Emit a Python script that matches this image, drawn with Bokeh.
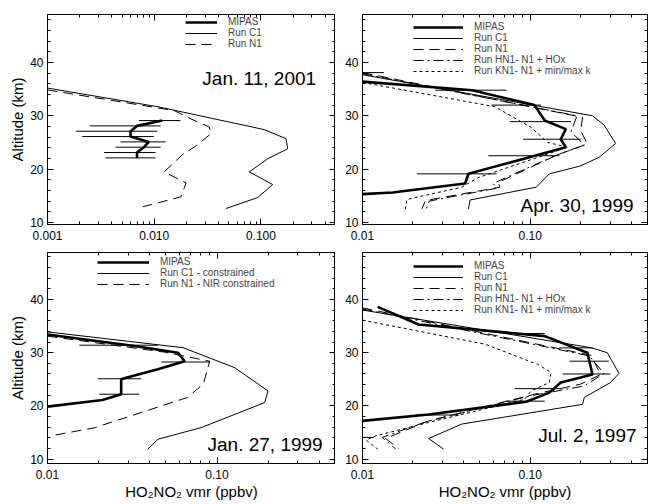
from bokeh.plotting import figure
from bokeh.layouts import column, row
from bokeh.models import (Range1d, FixedTicker, PrintfTickFormatter, LogAxis, LinearAxis,
                          Legend, LegendItem, Label)
from bokeh.embed import file_html
from bokeh.resources import INLINE

FONT = "Liberation Sans"

# ---------------- Panel A: Jan. 11, 2001 ----------------
a_mipas_alt = [29.1, 28.1, 27.1, 26.1, 25.1, 24.1, 23.1, 22.1]
a_mipas_vmr = [0.0119, 0.0069, 0.0060, 0.0060, 0.0089, 0.0080, 0.0069, 0.0069]
a_bar_alt = [29.1, 28.1, 27.1, 26.1, 25.1, 24.1, 23.1, 22.1]
a_bar_lo = [0.0072, 0.0025, 0.00184, 0.00212, 0.00484, 0.00435, 0.00338, 0.0035]
a_bar_hi = [0.0176, 0.0115, 0.0107, 0.0099, 0.0128, 0.0115, 0.0103, 0.0103]
a_c1_alt = [35.2, 31.7, 27.4, 25.7, 23.8, 21.95, 19.46, 17.1, 14.66, 12.6]
a_c1_vmr = [0.001, 0.0108, 0.1077, 0.172, 0.178, 0.116, 0.078, 0.129, 0.0933, 0.0471]
a_n1_alt = [34.84, 30.98, 29.42, 27.87, 26.62, 24.13, 22.76, 19.46, 17.4, 14.79, 12.92]
a_n1_vmr = [0.001, 0.0154, 0.0221, 0.0329, 0.034, 0.0238, 0.0185, 0.0124, 0.0199, 0.0178, 0.0078]

# ---------------- Panel B: Apr. 30, 1999 ----------------
b_mipas_alt = [36.4, 34.8, 32.0, 29.1, 27.5, 25.6, 24.1, 19.1, 17.3, 15.6, 15.3]
b_mipas_vmr = [0.010, 0.045, 0.106, 0.122, 0.163, 0.152, 0.163, 0.0428, 0.0409, 0.0151, 0.010]
b_bar_alt = [38.1, 34.8, 32.0, 28.9, 25.6, 22.5, 19.1]
b_bar_lo = [0.0100, 0.0272, 0.0587, 0.0755, 0.0906, 0.0562, 0.0211]
b_bar_hi = [0.0134, 0.0721, 0.116, 0.175, 0.200, 0.149, 0.063]
b_c1_alt = [37.7, 30.0, 28.3, 24.8, 22.2, 20.6, 19.1, 16.6, 14.2, 12.5]
b_c1_vmr = [0.01, 0.235, 0.275, 0.323, 0.257, 0.2, 0.13, 0.1085, 0.0438, 0.0428]
b_n1_alt = [38.1, 29.7, 27.2, 24.7, 22.7, 17.5, 16.6, 14.1, 12.5]
b_n1_vmr = [0.01, 0.205, 0.2, 0.219, 0.146, 0.0644, 0.066, 0.0237, 0.0226]
b_hn1_alt = [37.9, 30.0, 27.0, 24.5, 22.5, 17.3, 16.4, 14.0, 12.5]
b_hn1_vmr = [0.01, 0.19, 0.175, 0.21, 0.14, 0.06, 0.063, 0.025, 0.024]
b_kn1_alt = [36.25, 31.7, 27.8, 25.0, 24.1, 18.4, 16.6, 14.3, 12.5]
b_kn1_vmr = [0.01, 0.0615, 0.1014, 0.127, 0.167, 0.049, 0.039, 0.0184, 0.018]

# ---------------- Panel C: Jan. 27, 1999 ----------------
c_mipas_alt = [19.88, 21.13, 22.19, 25.0, 25.3, 26.9, 28.4, 30.0, 31.25, 33.4]
c_mipas_vmr = [0.01, 0.0211, 0.0272, 0.0272, 0.0291, 0.0448, 0.0644, 0.0587, 0.0326, 0.01]
c_bar_alt = [31.4, 28.25, 25.1, 22.2]
c_bar_lo = [0.0154, 0.0469, 0.0198, 0.0202]
c_bar_hi = [0.0448, 0.0906, 0.0357, 0.0348]
c_c1_alt = [33.9, 30.94, 27.19, 22.81, 20.63, 15.94, 13.75, 11.88]
c_c1_vmr = [0.01, 0.063, 0.127, 0.2, 0.191, 0.0807, 0.0448, 0.039]
c_n1_alt = [33.1, 30.1, 28.4, 24.1, 21.6, 15.9, 14.4]
c_n1_vmr = [0.01, 0.049, 0.0906, 0.083, 0.067, 0.0189, 0.0105]

# ---------------- Panel D: Jul. 2, 1997 ----------------
d_mipas_alt = [38.6, 35.3, 33.1, 30.0, 25.9, 24.4, 22.5, 20.8, 18.4, 17.2]
d_mipas_vmr = [0.0123, 0.0216, 0.122, 0.219, 0.235, 0.152, 0.13, 0.0946, 0.0248, 0.01]
d_bar_alt = [33.6, 30.9, 28.4, 26.0, 23.25, 20.9, 18.3, 14.1]
d_bar_lo = [0.0773, 0.149, 0.171, 0.156, 0.0807, 0.072, 0.0207, 0.01]
d_bar_hi = [0.122, 0.236, 0.294, 0.301, 0.152, 0.122, 0.0373, 0.0117]
d_c1_alt = [38.0, 30.94, 30.0, 26.1, 24.4, 21.6, 20.3, 16.6, 13.9, 11.9]
d_c1_vmr = [0.01, 0.23, 0.288, 0.338, 0.301, 0.21, 0.205, 0.0391, 0.0248, 0.0304]
d_n1_alt = [38.4, 29.5, 25.9, 24.1, 22.2, 17.2, 13.9, 12.0]
d_n1_vmr = [0.01, 0.23, 0.263, 0.2, 0.106, 0.0248, 0.0137, 0.0165]
d_hn1_alt = [38.2, 29.4, 26.1, 23.75, 21.9, 17.0, 14.1, 11.9]
d_hn1_vmr = [0.01, 0.225, 0.275, 0.21, 0.1, 0.0237, 0.0131, 0.0158]
d_kn1_alt = [36.1, 31.6, 27.8, 26.25, 24.4, 22.8, 21.25, 16.9, 14.4, 13.6, 11.9]
d_kn1_vmr = [0.01, 0.0537, 0.111, 0.133, 0.13, 0.101, 0.0927, 0.0248, 0.012, 0.0105, 0.0123]

dates = ["Jan. 11, 2001", "Apr. 30, 1999", "Jan. 27, 1999", "Jul. 2, 1997"]
x_title = "HO\u2082NO\u2082 vmr (ppbv)"
y_title = "Altitude (km)"

STYLE = {
    "MIPAS": dict(line_width=2.6, line_dash="solid"),
    "C1": dict(line_width=1, line_dash="solid"),
    "N1": dict(line_width=1, line_dash="10 6"),
    "HN1": dict(line_width=1, line_dash="10 4 2 4"),
    "KN1": dict(line_width=1, line_dash="3 3"),
}


def log_ticks(xmin):
    major, minor = [], []
    d = xmin
    while d < 1.0:
        major.append(d)
        for k in range(2, 10):
            v = d * k
            if v <= 0.5 + 1e-9:
                minor.append(v)
        d *= 10
    return major, minor


def style_axis(ax):
    ax.major_tick_in = 6
    ax.major_tick_out = 0
    ax.minor_tick_in = 3
    ax.minor_tick_out = 0
    ax.axis_line_color = "black"
    ax.major_tick_line_color = "black"
    ax.minor_tick_line_color = "black"
    ax.major_label_text_font = FONT
    ax.major_label_text_font_size = "12px"
    ax.major_label_text_color = "black"
    ax.axis_label_text_font = FONT
    ax.axis_label_text_font_size = "15px"
    ax.axis_label_text_font_style = "normal"
    ax.axis_label_text_color = "black"
    ax.axis_label_standoff = 1


def panel(xmin, fmt, yr, width, height, bl, bt, bb, br):
    p = figure(width=width, height=height, x_axis_type="log",
               x_range=Range1d(xmin, 0.5), y_range=Range1d(*yr),
               output_backend="svg", toolbar_location=None,
               min_border_left=bl, min_border_top=bt, min_border_bottom=bb,
               min_border_right=br)
    p.grid.visible = False
    p.outline_line_color = "black"
    p.outline_line_width = 1
    p.outline_line_alpha = 1
    major, minor = log_ticks(xmin)
    xt = FixedTicker(ticks=major, minor_ticks=minor)
    yt = FixedTicker(ticks=[10, 20, 30, 40], minor_ticks=list(range(10, 50, 2)))
    bottom = p.below[0]
    bottom.ticker = xt
    bottom.formatter = PrintfTickFormatter(format=fmt)
    style_axis(bottom)
    bottom.major_label_standoff = 6
    left = p.left[0]
    left.ticker = yt
    style_axis(left)
    left.major_label_standoff = 4
    top = LogAxis(ticker=xt)
    right = LinearAxis(ticker=yt)
    for ax in (top, right):
        style_axis(ax)
        ax.major_label_text_font_size = "1px"
        ax.major_label_text_alpha = 0
        ax.major_label_standoff = 0
    p.add_layout(top, "above")
    p.add_layout(right, "right")
    return p


def draw(p, series, bars, legend_labels, legend_loc, glyph_w):
    items = []
    rends = {}
    for key, (xs, ys) in series.items():
        r = p.line(xs, ys, line_color="black", **STYLE[key])
        rends[key] = r
    alt, lo, hi = bars
    p.segment(x0=lo, x1=hi, y0=alt, y1=alt, line_color="black", line_width=1)
    for key, lab in legend_labels:
        items.append(LegendItem(label=lab, renderers=[rends[key]]))
    lg = Legend(items=items, location=legend_loc, glyph_width=glyph_w, glyph_height=10,
                label_height=10, spacing=0, padding=0, margin=0, label_standoff=11,
                label_text_font=FONT, label_text_font_size="10px",
                border_line_alpha=0, background_fill_alpha=0)
    p.add_layout(lg)


def date_label(p, x, y, text):
    p.add_layout(Label(x=x, y=y, text=text, text_align="right", text_baseline="middle",
                       text_font=FONT, text_font_size="19px", text_color="black"))


# Top-left
pA = panel(0.001, "%.3f", (9.6, 49.0), 335, 252, 47, 14, 28, 0)
pA.left[0].axis_label = y_title
draw(pA, {"MIPAS": (a_mipas_vmr, a_mipas_alt), "C1": (a_c1_vmr, a_c1_alt), "N1": (a_n1_vmr, a_n1_alt)},
     (a_bar_alt, a_bar_lo, a_bar_hi),
     [("MIPAS", "MIPAS"), ("C1", "Run C1"), ("N1", "Run N1")], (138, 175), 32)
date_label(pA, 0.329, 37.0, dates[0])

# Top-right
pB = panel(0.01, "%.2f", (9.6, 49.0), 313, 252, 27, 14, 28, 1)
draw(pB, {"MIPAS": (b_mipas_vmr, b_mipas_alt), "C1": (b_c1_vmr, b_c1_alt), "N1": (b_n1_vmr, b_n1_alt),
          "HN1": (b_hn1_vmr, b_hn1_alt), "KN1": (b_kn1_vmr, b_kn1_alt)},
     (b_bar_alt, b_bar_lo, b_bar_hi),
     [("MIPAS", "MIPAS"), ("C1", "Run C1"), ("N1", "Run N1"), ("HN1", "Run HN1- N1 + HOx"),
      ("KN1", "Run KN1- N1 + min/max k")], (51, 148), 50)
date_label(pB, 0.413, 13.2, dates[1])

# Bottom-left
pC = panel(0.01, "%.2f", (9.2, 48.8), 335, 252, 47, 0, 41, 0)
pC.left[0].axis_label = y_title
pC.below[0].axis_label = x_title
draw(pC, {"MIPAS": (c_mipas_vmr, c_mipas_alt), "C1": (c_c1_vmr, c_c1_alt), "N1": (c_n1_vmr, c_n1_alt)},
     (c_bar_alt, c_bar_lo, c_bar_hi),
     [("MIPAS", "MIPAS"), ("C1", "Run C1 - constrained"), ("N1", "Run N1 - NIR constrained")], (50, 174), 52)
date_label(pC, 0.42, 12.8, dates[2])

# Bottom-right
pD = panel(0.01, "%.2f", (9.2, 48.8), 313, 252, 27, 0, 41, 1)
pD.below[0].axis_label = x_title
draw(pD, {"MIPAS": (d_mipas_vmr, d_mipas_alt), "C1": (d_c1_vmr, d_c1_alt), "N1": (d_n1_vmr, d_n1_alt),
          "HN1": (d_hn1_vmr, d_hn1_alt), "KN1": (d_kn1_vmr, d_kn1_alt)},
     (d_bar_alt, d_bar_lo, d_bar_hi),
     [("MIPAS", "MIPAS"), ("C1", "Run C1"), ("N1", "Run N1"), ("HN1", "Run HN1- N1 + HOx"),
      ("KN1", "Run KN1- N1 + min/max k")], (51, 148), 50)
date_label(pD, 0.43, 14.5, dates[3])

layout = column(row(pA, pB), row(pC, pD))
open("out.html", "w").write(file_html(layout, INLINE))
